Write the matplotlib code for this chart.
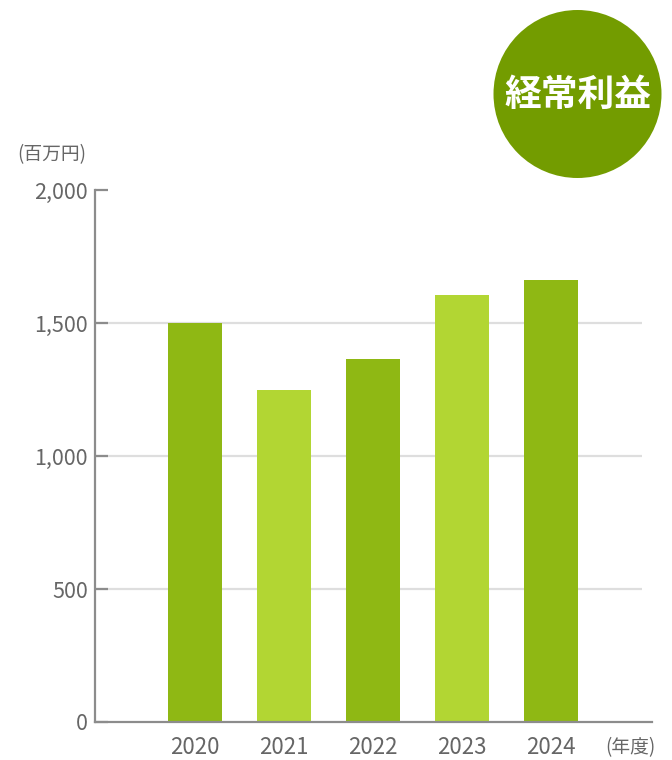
import matplotlib
matplotlib.use("Agg")
import matplotlib.pyplot as plt
from matplotlib.patches import Circle

plt.rcParams['font.family'] = ['Noto Sans CJK JP', 'DejaVu Sans']

# data (経常利益, 百万円)
years = ['2020', '2021', '2022', '2023', '2024']
values = [1500, 1250, 1365, 1605, 1660]
bar_colors = ['#8fb814', '#b2d633', '#8fb814', '#b2d633', '#8fb814']
y_ticks = [0, 500, 1000, 1500, 2000]
y_ticklabels = ['0', '500', '1,000', '1,500', '2,000']

text_color = '#666666'
axis_color = '#8c8c8c'
grid_color = '#dedede'

fig = plt.figure(figsize=(6.72, 7.6), dpi=100)

# main chart area
ax = fig.add_axes([95 / 672, 38 / 760, 557 / 672, 532 / 760])
x = list(range(len(years)))
ax.set_xlim(-1.124, 5.135)
ax.set_ylim(0, 2000)

# light gridlines (stop a bit before the baseline end)
for t in y_ticks[1:-1]:
    ax.hlines(t, -1.124, 5.022, color=grid_color, lw=1.6, zorder=1)

ax.bar(x, values, width=0.607, color=bar_colors, zorder=2)

for side in ['top', 'right']:
    ax.spines[side].set_visible(False)
ax.spines['left'].set_color(axis_color)
ax.spines['bottom'].set_color(axis_color)
ax.spines['left'].set_linewidth(1.6)
ax.spines['bottom'].set_linewidth(1.6)

ax.set_yticks(y_ticks)
ax.set_yticklabels(y_ticklabels)
ax.tick_params(axis='y', direction='in', length=9.5, width=1.6, color=axis_color,
               labelsize=15.5, labelcolor=text_color, pad=5)
ax.set_xticks(x)
ax.set_xticklabels(years)
ax.tick_params(axis='x', length=0, labelsize=16, labelcolor=text_color, pad=10)

# overlay in pixel coordinates for the decorations
ov = fig.add_axes([0, 0, 1, 1], zorder=5)
ov.set_xlim(0, 672)
ov.set_ylim(760, 0)
ov.axis('off')

ov.text(52, 155, '(百万円)', ha='center', va='center', fontsize=13.5, color=text_color)
ov.text(630, 748, '(年度)', ha='center', va='center', fontsize=13.5, color=text_color)

ov.add_patch(Circle((577.5, 94), 84, color='#739c00', lw=0))
ov.text(577.5, 95, '経常利益', ha='center', va='center', fontsize=26.5,
        fontweight='bold', color='white')

fig.savefig('out.png', dpi=100)
